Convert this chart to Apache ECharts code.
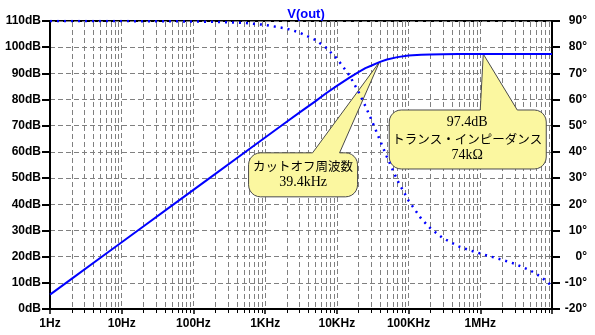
<!DOCTYPE html>
<html>
<head>
<meta charset="utf-8">
<script src="https://cdn.jsdelivr.net/npm/echarts@6/dist/echarts.min.js"></script>
<style>
  html, body { margin: 0; padding: 0; background: #fff; }
  #c { width: 595px; height: 335px; }
</style>
</head>
<body>
<div id="c"></div>
<script>
// Frequency response of the transimpedance stage, V(out)
const freqs = [1, 2, 5, 10, 20, 50, 100, 200, 500, 1e3, 2e3, 3e3, 5e3, 7e3, 1e4, 1.5e4, 2e4, 2.5e4, 3e4, 4e4, 5e4, 7e4,
               1e5, 1.5e5, 2e5, 3e5, 5e5, 7e5, 1e6, 2e6, 3e6, 5e6, 7e6, 1e7];
const magnitudeDb = [5.5, 11.5, 19.5, 25.5, 31.5, 39.5, 45.5, 51.5, 59.5, 65.5, 71.5, 75.0, 79.3, 82.3, 85.2, 88.4, 90.5,
                     92.0, 92.9, 94.4, 95.3, 96.2, 96.8, 97.1, 97.2, 97.3, 97.4, 97.4, 97.4, 97.4, 97.4, 97.4, 97.4, 97.4];
const phaseDeg = [90, 90, 90, 90, 89.9, 89.9, 89.8, 89.7, 89.3, 88.5, 87.1, 85.6, 82.8, 79.9, 75.7, 69.2, 63.0,
                  57.5, 52.6, 44.4, 38.0, 29.1, 21.4, 14.5, 10.9, 7.1, 3.9, 2.5, 1.2, -1.2, -2.7, -5.3, -7.7, -11.2];

// Decade labels on the frequency axis (10MHz edge is left blank)
const freqTickLabels = ['1Hz', '10Hz', '100Hz', '1KHz', '10KHz', '100KHz', '1MHz', ''];

// Annotated points
const cutoffPoint = { freq: 39400, db: 94.4 };
const cutoffText = ['カットオフ周波数', '39.4kHz'];
const midbandPoint = { freq: 1.1e6, db: 97.4 };
const midbandText = ['97.4dB', 'トランス・インピーダンス', '74kΩ'];

const AXIS_FONT = '"Liberation Sans", Arial, sans-serif';
const NOTE_LATIN = 'normal 14px "Liberation Serif", "Noto Sans CJK JP", serif';
const NOTE_JP = 'normal 12.5px "Noto Sans CJK JP", "Liberation Serif", sans-serif';
const TRACE = '#0000ff';
const GRID_GRAY = '#808080';

// Positions of the 2..9 sub-decade grid lines
const minorFreqs = [];
for (let d = 1; d < 1e7; d *= 10) {
  for (let k = 2; k <= 9; k++) minorFreqs.push(k * d);
}

const chart = echarts.init(document.getElementById('c'), null, { renderer: 'canvas' });

const axisLabelStyle = { color: '#000', fontWeight: 'bold', fontSize: 12, fontFamily: AXIS_FONT };

chart.setOption({
  animation: false,
  backgroundColor: '#fff',
  title: {
    text: 'V(out)',
    left: 301,
    top: 3,
    textAlign: 'center',
    textStyle: { color: TRACE, fontWeight: 'bold', fontSize: 13, fontFamily: AXIS_FONT }
  },
  grid: {
    left: 50, right: 43, top: 21, bottom: 26,
    show: true, borderColor: '#000', borderWidth: 2, backgroundColor: 'transparent'
  },
  xAxis: {
    type: 'log',
    logBase: 10,
    min: 1,
    max: 1e7,
    axisLine: { show: true, lineStyle: { color: '#000', width: 2 } },
    axisTick: { show: true, length: 5, lineStyle: { color: '#000', width: 1.5 } },
    axisLabel: Object.assign({
      margin: 9,
      showMinLabel: true,
      showMaxLabel: true,
      formatter: v => freqTickLabels[Math.round(Math.log10(v))] || ''
    }, axisLabelStyle),
    splitLine: { show: true, lineStyle: { color: GRID_GRAY, width: 1, type: [5, 3] } }
  },
  yAxis: [
    {
      type: 'value', position: 'left', min: 0, max: 110, interval: 10,
      axisLine: { show: true, lineStyle: { color: '#000', width: 2 } },
      axisTick: { show: true, length: 8, lineStyle: { color: '#000', width: 2 } },
      axisLabel: Object.assign({ margin: 9, formatter: '{value}dB' }, axisLabelStyle),
      splitLine: { show: true, lineStyle: { color: GRID_GRAY, width: 1, type: [5, 3] } }
    },
    {
      type: 'value', position: 'right', min: -20, max: 90, interval: 10,
      axisLine: { show: true, lineStyle: { color: '#000', width: 2 } },
      axisTick: { show: true, length: 8, lineStyle: { color: '#000', width: 2 } },
      axisLabel: Object.assign({ margin: 35, align: 'right', formatter: '{value}°' }, axisLabelStyle),
      splitLine: { show: false }
    }
  ],
  series: [
    {
      // sub-decade grid lines and their small ticks under the frequency axis
      type: 'custom',
      xAxisIndex: 0,
      yAxisIndex: 0,
      silent: true,
      clip: false,
      z: 0,
      data: minorFreqs.map(f => [f, 0]),
      renderItem: (params, api) => {
        const bottom = api.coord([api.value(0), 0]);
        const top = api.coord([api.value(0), 110]);
        const x = Math.round(bottom[0]) + 0.5;
        return {
          type: 'group',
          children: [
            { type: 'line', shape: { x1: x, y1: top[1] + 1, x2: x, y2: bottom[1] - 1 },
              style: { stroke: GRID_GRAY, lineWidth: 1, lineDash: [5, 3] } },
            { type: 'line', shape: { x1: x, y1: bottom[1], x2: x, y2: bottom[1] + 4 },
              style: { stroke: '#000', lineWidth: 1 } }
          ]
        };
      }
    },
    {
      name: 'magnitude',
      type: 'line',
      xAxisIndex: 0,
      yAxisIndex: 0,
      data: freqs.map((f, i) => [f, magnitudeDb[i]]),
      showSymbol: false,
      smooth: false,
      lineStyle: { color: TRACE, width: 2 },
      z: 3
    },
    {
      name: 'phase',
      type: 'line',
      xAxisIndex: 0,
      yAxisIndex: 1,
      data: freqs.map((f, i) => [f, phaseDeg[i]]),
      showSymbol: false,
      smooth: false,
      lineStyle: { color: TRACE, width: 2.5, type: [2, 5] },
      z: 3
    }
  ]
});

// Speech-bubble outline: rounded box with a pointer from its top edge to the tip
function bubblePoints(tip, L, T, R, B, b0, b1, rad) {
  const pts = [];
  const arc = (cx, cy, a0, a1) => {
    const n = 6;
    for (let i = 0; i <= n; i++) {
      const a = (a0 + (a1 - a0) * i / n) * Math.PI / 180;
      pts.push([cx + rad * Math.cos(a), cy + rad * Math.sin(a)]);
    }
  };
  pts.push([b0, T], [tip[0], tip[1]], [b1, T]);
  arc(R - rad, T + rad, -90, 0);
  arc(R - rad, B - rad, 0, 90);
  arc(L + rad, B - rad, 90, 180);
  arc(L + rad, T + rad, 180, 270);
  return pts;
}

function callout(point, lines, fonts, box, base, textDx, textY) {
  const tip = chart.convertToPixel({ xAxisIndex: 0, yAxisIndex: 0 }, [point.freq, point.db]);
  const els = [{
    type: 'polygon',
    z: 1,
    shape: { points: bubblePoints(tip, tip[0] + box[0], tip[1] + box[1], tip[0] + box[2], tip[1] + box[3],
                                  tip[0] + base[0], tip[0] + base[1], 12) },
    style: { fill: '#fbf7a0', stroke: '#4a4a4a', lineWidth: 1 }
  }];
  lines.forEach((t, i) => {
    els.push({
      type: 'text',
      z: 5,
      x: tip[0] + textDx,
      y: tip[1] + textY[i],
      style: { text: t, font: fonts[i], fill: '#000', align: 'center', verticalAlign: 'middle' }
    });
  });
  return els;
}

const graphics = []
  .concat(callout(cutoffPoint, cutoffText, [NOTE_JP, NOTE_LATIN],
                  [-131, 91, -22, 135], [-67, -40], -76.5, [104, 120]))
  .concat(callout(midbandPoint, midbandText, [NOTE_LATIN, NOTE_JP, NOTE_LATIN],
                  [-94, 56, 63, 115], [-3, 34], -16, [68, 85, 101]));

chart.setOption({ graphic: graphics });
</script>
</body>
</html>
